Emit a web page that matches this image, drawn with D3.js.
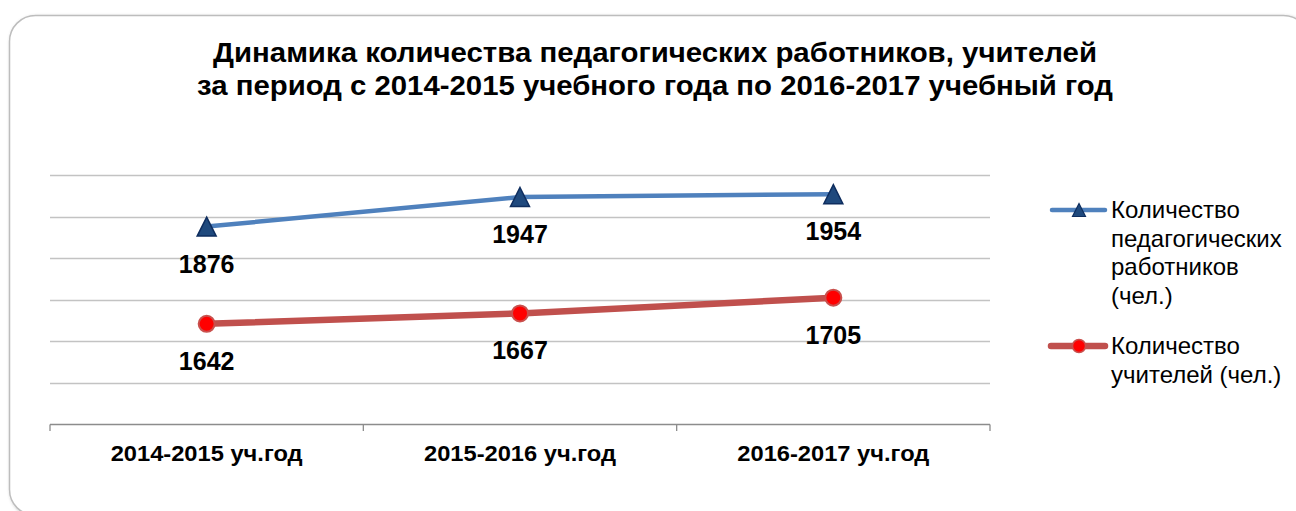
<!DOCTYPE html>
<html><head><meta charset="utf-8">
<script src="https://cdn.jsdelivr.net/npm/d3@7"></script>
<style>body{margin:0;background:#fff;}svg{display:block;font-family:"Liberation Sans",Arial,sans-serif;}</style>
</head><body>
<svg id="c" width="1296" height="511"></svg>
<script>
const categories = ["2014-2015 уч.год", "2015-2016 уч.год", "2016-2017 уч.год"];
const pedagogues = [1876, 1947, 1954];
const teachers = [1642, 1667, 1705];
const seriesNames = [["Количество", "педагогических", "работников", "(чел.)"], ["Количество", "учителей (чел.)"]];
const titleLines = ["Динамика количества педагогических работников, учителей", "за период с 2014-2015 учебного года по 2016-2017 учебный год"];
const yTicks = [1400, 1500, 1600, 1700, 1800, 1900, 2000];

const svg = d3.select("#c");
const defs = svg.append("defs");
const f = defs.append("filter").attr("id","sh").attr("x","-5%").attr("y","-5%").attr("width","110%").attr("height","110%");
f.append("feDropShadow").attr("dx",1).attr("dy",1).attr("stdDeviation",1.5).attr("flood-color","#000").attr("flood-opacity",0.25);

svg.append("rect").attr("x",9.5).attr("y",15.5).attr("width",1300).attr("height",500).attr("rx",26)
  .attr("fill","#fff").attr("stroke","#bdbdbd").attr("stroke-width",1.5).attr("filter","url(#sh)");

const titleW = [884, 916];
svg.append("g").selectAll("text").data(titleLines).join("text")
  .attr("x",655).attr("y",(d,i)=>62+i*33).attr("text-anchor","middle")
  .attr("textLength",(d,i)=>titleW[i]).attr("lengthAdjust","spacingAndGlyphs")
  .attr("font-size",27).attr("font-weight","bold").attr("fill","#000").text(d=>d);

const x = d3.scaleBand().domain(categories).range([50,990]);
const y = d3.scaleLinear().domain([1400,2000]).range([424.5,175]);

const g = svg.append("g");
g.selectAll("line.grid").data(yTicks.slice(1)).join("line").attr("class","grid")
  .attr("x1",50).attr("x2",990).attr("y1",d=>Math.round(y(d))+0.5).attr("y2",d=>Math.round(y(d))+0.5)
  .attr("stroke","#c3c3c3").attr("stroke-width",1.3);

const xAxis = g.append("g").attr("transform","translate(0,424.5)")
  .call(d3.axisBottom(x).tickSize(0).tickFormat(""));
xAxis.select(".domain").attr("stroke","#8c8c8c").attr("stroke-width",1.3).attr("d","M50,0H990");
const tickPos = [50, ...categories.map(c=>x(c)+x.bandwidth())];
g.selectAll("line.tk").data(tickPos).join("line").attr("class","tk")
  .attr("x1",d=>d).attr("x2",d=>d).attr("y1",424.5).attr("y2",431).attr("stroke","#8c8c8c").attr("stroke-width",1.3);
g.selectAll("text.cat").data(categories).join("text").attr("class","cat")
  .attr("x",d=>x(d)+x.bandwidth()/2).attr("y",461).attr("text-anchor","middle")
  .attr("textLength",192).attr("lengthAdjust","spacingAndGlyphs")
  .attr("font-size",22).attr("font-weight","bold").attr("fill","#000").text(d=>d);

const cx = d=>x(d)+x.bandwidth()/2;
const line = d3.line().x(d=>cx(d[0])).y(d=>y(d[1]));
const pData = categories.map((c,i)=>[c,pedagogues[i]]);
const tData = categories.map((c,i)=>[c,teachers[i]]);

g.append("path").datum(pData).attr("d",line).attr("fill","none").attr("stroke","#4F81BD").attr("stroke-width",4.5).attr("stroke-linejoin","round");
g.append("path").datum(tData).attr("d",line).attr("fill","none").attr("stroke","#C0504D").attr("stroke-width",6.5).attr("stroke-linejoin","round");

const tri = (s)=>`M0,${-s/2}L${s/2},${s/2}L${-s/2},${s/2}Z`;
g.selectAll("path.tri").data(pData).join("path").attr("class","tri")
  .attr("transform",d=>`translate(${cx(d[0])},${y(d[1])})`).attr("d",tri(19))
  .attr("fill","#1F497D").attr("stroke","#0E2D5E").attr("stroke-width",1.5);
g.selectAll("circle.dot").data(tData).join("circle").attr("class","dot")
  .attr("cx",d=>cx(d[0])).attr("cy",d=>y(d[1])).attr("r",8)
  .attr("fill","#FF0000").attr("stroke","#C9504D").attr("stroke-width",2);

g.selectAll("text.pl").data(pData).join("text").attr("class","pl")
  .attr("x",d=>cx(d[0])).attr("y",d=>y(d[1])+46).attr("text-anchor","middle")
  .attr("font-size",25).attr("font-weight","bold").attr("fill","#000").text(d=>d[1]);
g.selectAll("text.tl").data(tData).join("text").attr("class","tl")
  .attr("x",d=>cx(d[0])).attr("y",d=>y(d[1])+46).attr("text-anchor","middle")
  .attr("font-size",25).attr("font-weight","bold").attr("fill","#000").text(d=>d[1]);

// legend
const leg = svg.append("g");
const l1y = 210, l2y = 346;
leg.append("line").attr("x1",1052).attr("x2",1105).attr("y1",l1y).attr("y2",l1y).attr("stroke","#4F81BD").attr("stroke-width",4.5).attr("stroke-linecap","round");
leg.append("path").attr("transform",`translate(1079,${l1y})`).attr("d",tri(13)).attr("fill","#1F497D").attr("stroke","#0E2D5E").attr("stroke-width",1.2);
leg.append("line").attr("x1",1051).attr("x2",1105).attr("y1",l2y).attr("y2",l2y).attr("stroke","#C0504D").attr("stroke-width",6.5).attr("stroke-linecap","round");
leg.append("circle").attr("cx",1079).attr("cy",l2y).attr("r",6.5).attr("fill","#FF0000").attr("stroke","#C9504D").attr("stroke-width",1.5);
[[seriesNames[0],218],[seriesNames[1],354]].forEach(([lines,by])=>{
  leg.append("g").selectAll("text").data(lines).join("text")
    .attr("x",1111).attr("y",(d,i)=>by+i*28.5).attr("font-size",24).attr("fill","#000").text(d=>d);
});
</script>
</body></html>
